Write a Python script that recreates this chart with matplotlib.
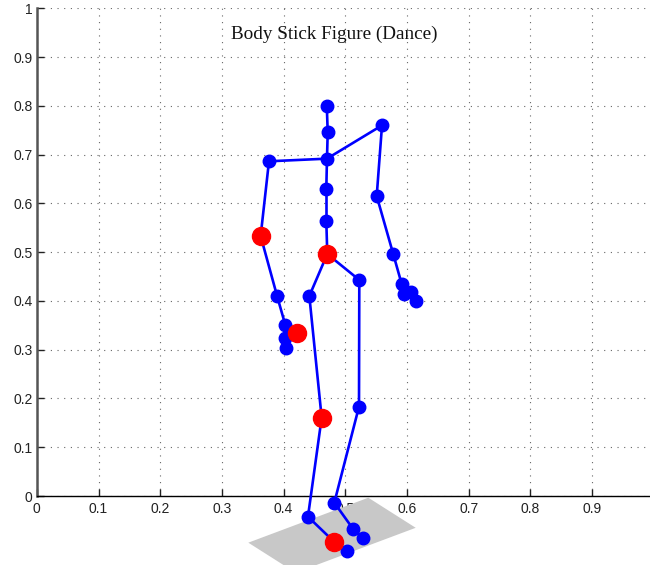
import matplotlib
matplotlib.use("Agg")
import matplotlib.pyplot as plt
from matplotlib.patches import Polygon

# Joint positions (x, y)
joints = {
    "head":        (0.470, 0.800),
    "neck":        (0.4715, 0.7457),
    "spine_sh":    (0.4703, 0.6917),
    "spine1":      (0.4692, 0.6289),
    "spine2":      (0.4692, 0.5639),
    "spine_base":  (0.4708, 0.4962),
    "shoulder_l":  (0.3763, 0.6863),
    "elbow_l":     (0.3628, 0.5331),
    "wrist_l":     (0.3893, 0.4107),
    "hand_l":      (0.4028, 0.3506),
    "handtip_l":   (0.4222, 0.3336),
    "thumb_l1":    (0.4028, 0.3246),
    "thumb_l2":    (0.4044, 0.3028),
    "shoulder_r":  (0.5595, 0.7600),
    "elbow_r":     (0.5509, 0.6151),
    "wrist_r":     (0.5778, 0.4956),
    "hand_r":      (0.5914, 0.4347),
    "hand_r2":     (0.5951, 0.4136),
    "handtip_r":   (0.6060, 0.4189),
    "thumb_r":     (0.6146, 0.4005),
    "hip_l":       (0.4417, 0.4101),
    "knee_l":      (0.4617, 0.1606),
    "ankle_l":     (0.4395, -0.0424),
    "foot_l":      (0.4817, -0.0937),
    "toe_l":       (0.5032, -0.1121),
    "hip_r":       (0.5227, 0.4429),
    "knee_r":      (0.5222, 0.1832),
    "ankle_r":     (0.4822, -0.0137),
    "foot_r":      (0.5130, -0.0683),
    "toe_r":       (0.5292, -0.0867),
}

bones = [
    ("head", "neck"), ("neck", "spine_sh"), ("spine_sh", "spine1"),
    ("spine1", "spine2"), ("spine2", "spine_base"),
    ("spine_sh", "shoulder_l"), ("shoulder_l", "elbow_l"), ("elbow_l", "wrist_l"),
    ("wrist_l", "hand_l"), ("hand_l", "handtip_l"), ("hand_l", "thumb_l1"),
    ("thumb_l1", "thumb_l2"),
    ("spine_sh", "shoulder_r"), ("shoulder_r", "elbow_r"), ("elbow_r", "wrist_r"),
    ("wrist_r", "hand_r"), ("hand_r", "hand_r2"), ("hand_r", "handtip_r"),
    ("handtip_r", "thumb_r"),
    ("spine_base", "hip_l"), ("hip_l", "knee_l"), ("knee_l", "ankle_l"),
    ("ankle_l", "foot_l"), ("foot_l", "toe_l"),
    ("spine_base", "hip_r"), ("hip_r", "knee_r"), ("knee_r", "ankle_r"),
    ("ankle_r", "foot_r"), ("foot_r", "toe_r"),
]

red_joints = ["spine_base", "elbow_l", "handtip_l", "knee_l", "foot_l"]

floor_x = [0.3428, 0.5373, 0.6141, 0.4196]
floor_y = [-0.0957, -0.0035, -0.0652, -0.1574]

xticks = [0, 0.1, 0.2, 0.3, 0.4, 0.5, 0.6, 0.7, 0.8, 0.9]
yticks = [0, 0.1, 0.2, 0.3, 0.4, 0.5, 0.6, 0.7, 0.8, 0.9, 1]
title = "Body Stick Figure (Dance)"

plt.rcParams['font.family'] = ['Liberation Sans', 'DejaVu Sans']
fig = plt.figure(figsize=(6.5, 5.65), dpi=100)
ax = fig.add_axes([36.8 / 650, 69 / 565, 617 / 650, 487.7 / 565])
ax.set_xlim(0, 1)
ax.set_ylim(0, 1)

floor = Polygon(list(zip(floor_x, floor_y)), closed=True, facecolor='#c8c8c8',
                edgecolor='none', clip_on=False, zorder=1)
ax.add_patch(floor)

for a, b in bones:
    xa, ya = joints[a]
    xb, yb = joints[b]
    ax.plot([xa, xb], [ya, yb], color='#0000ff', lw=1.9, clip_on=False, zorder=3,
            solid_capstyle='round')

for name, (x, y) in joints.items():
    if name in red_joints:
        continue
    ax.plot([x], [y], 'o', color='#0000ff', ms=9, mec='#0000ff', clip_on=False, zorder=4)
for name in red_joints:
    x, y = joints[name]
    ax.plot([x], [y], 'o', color='#ff0000', ms=13, mec='#ff0000', clip_on=False, zorder=4)

ax.text(0.482, 0.946, title, ha='center', va='center', fontsize=13.8,
        family=['Liberation Serif', 'DejaVu Serif'], color='#111111')

ax.set_xticks(xticks)
ax.set_xticklabels(["0" if t == 0 else f"{t:g}" for t in xticks])
ax.set_yticks(yticks)
ax.set_yticklabels(["0" if t == 0 else f"{t:g}" for t in yticks])
ax.tick_params(direction='in', length=5, width=1, labelsize=10, colors='#222222',
               pad=4)
ax.tick_params(axis='y', pad=3)
ax.grid(True, linestyle=(0, (1, 5)), color='#666666', lw=0.8)
ax.set_axisbelow(True)
ax.spines['top'].set_visible(False)
ax.spines['right'].set_visible(False)
ax.spines['left'].set_color('#555555')
ax.spines['left'].set_linewidth(1.8)
ax.spines['bottom'].set_color('black')
ax.spines['bottom'].set_linewidth(1.0)

fig.savefig("out.png", dpi=100)
